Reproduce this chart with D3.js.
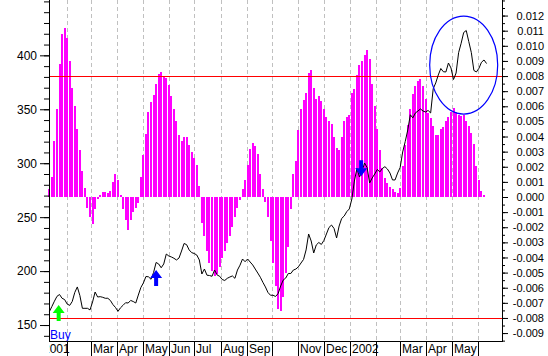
<!DOCTYPE html>
<html><head><meta charset="utf-8">
<script src="https://cdn.jsdelivr.net/npm/d3@7"></script>
<style>body{margin:0;background:#fff}svg{display:block}text{font-family:"Liberation Sans",Arial,sans-serif}</style>
</head><body>
<svg id="c" width="548" height="356"></svg>
<script>
// ---- data ----
const startDate = new Date(2001, 0, 11);   // first observation
const stepDays = 3;                        // spacing of observations
// oscillator (right axis), in thousandths
const indicatorE3 = [
 0.5,1.3,3.7,5.8,8.8,10.8,11.15,10.5,9.0,7.2,6.0,4.5,3.1,1.7,0.6,
 -0.7,-1.3,-1.8,-0.8,-0.15,
 0.12,0.3,0.3,0.25,0.38,1.0,1.5,1.1,0.15,
 -0.8,-1.5,-2.2,-1.5,-1.0,-0.7,-0.4,
 1.3,2.75,4.2,5.6,6.3,6.75,7.5,8.15,8.25,7.95,7.9,7.4,6.7,5.8,5.05,4.1,3.7,4.0,4.0,3.45,3.0,2.6,2.1,0.7,
 -1.75,-2.6,-3.55,-4.35,-4.9,-5.25,-5.1,-4.6,-4.05,-3.55,-3.05,-2.55,-2.0,-1.3,-0.7,-0.2,
 0.5,1.15,2.1,3.15,3.57,3.4,2.85,1.5,0.5,
 -0.35,-1.35,-2.9,-4.35,-5.9,-7.4,-7.55,-6.6,-5.0,-3.3,-0.8,
 1.5,2.4,4.4,5.8,6.42,6.86,8.2,8.4,7.2,6.5,6.65,6.35,5.85,5.3,5.05,4.85,4.0,3.25,3.1,3.95,
 5.0,5.3,5.45,6.86,7.15,8.1,8.75,8.97,9.4,9.7,9.1,7.5,6.0,4.5,3.1,1.95,1.27,0.9,0.68,0.5,
 0.35,0.25,0.6,2.05,3.45,4.75,5.85,6.8,7.35,7.7,7.8,7.35,6.45,5.55,5.2,4.7,4.1,4.1,4.5,4.65,
 5.0,5.3,5.65,5.87,5.6,5.4,5.35,5.4,5.05,4.7,4.25,3.5,2.05,1.15,0.4,0.1,0.03
];
// price (left axis)
const price = [
 162.4,167.2,172.1,176.6,178.3,174.8,173.6,169.5,168.2,171.8,180.2,185.3,177.4,165.5,165.5,165.5,164.0,171.4,180.6,176.0,
 176.3,175.7,174.8,174.8,172.8,169.0,166.3,162.7,166.0,168.3,170.7,170.4,172.8,171.8,170.4,177.8,184.8,189.0,195.0,194.7,
 192.4,198.7,208.0,206.6,203.1,206.6,215.8,214.0,213.1,211.9,210.3,212.1,218.6,225.6,224.5,219.6,217.1,216.3,214.9,210.3,
 197.3,201.9,196.2,195.9,195.2,201.0,196.4,195.2,192.2,191.3,193.3,194.5,195.5,193.3,201.0,205.5,211.2,208.7,211.2,208.4,
 205.7,201.9,198.2,194.3,189.6,185.3,180.2,177.6,177.6,176.5,179.2,186.2,191.7,193.6,197.8,197.8,201.0,201.9,204.1,207.5,
 210.8,219.6,234.4,227.9,216.8,224.2,226.5,224.7,228.4,234.4,240.4,242.7,239.5,230.7,241.8,248.8,251.1,255.1,257.6,266.8,
 283.5,295.1,287.2,292.3,300.2,296.0,281.7,286.3,290.0,294.2,291.9,295.1,296.8,294.6,290.9,284.5,284.5,290.9,296.0,310.4,
 320.1,330.8,344.9,342.0,346.6,348.4,350.3,348.4,347.5,348.9,346.6,369.0,374.4,381.8,387.8,384.8,384.6,392.9,388.3,377.6,
 383.6,402.5,411.2,421.2,423.0,412.8,402.6,386.0,384.6,388.0,393.6,395.7,392.4
];
const leftTicks = [150, 200, 250, 300, 350, 400];
const rightTicks = [-0.009,-0.008,-0.007,-0.006,-0.005,-0.004,-0.003,-0.002,-0.001,0,0.001,0.002,0.003,0.004,0.005,0.006,0.007,0.008,0.009,0.010,0.011,0.012];
// month labels Jan 2001 .. Jun 2002 ("" = label not shown)
const monthLabels = ["2001","","Mar","Apr","May","Jun","Jul","Aug","Sep","","Nov","Dec","2002","","Mar","Apr","May",""];
const bandLevels = [0.008, -0.008];
const arrows = [
  {date: new Date(2001,0,22), value: 168.6, dir: "up", color: "#00ff00"},
  {date: new Date(2001,4,17), value: 201.0, dir: "up", color: "#0000ff"},
  {date: new Date(2002,0,14), value: 288.0, dir: "down", color: "#0000ff"}
];
const highlight = {date: new Date(2002,4,15), value: 391.0};
const buyLabel = "Buy";

// ---- layout ----
const svg = d3.select("#c");
const P = {l: 49, r: 502, t: 0, b: 341};
const xs = d3.scaleTime().domain([new Date(2001,0,10,14), new Date(2002,5,29,5)]).range([P.l, P.r]);
const yL = d3.scaleLinear().domain([135.2, 451.3]).range([P.b, P.t]);
const yR = d3.scaleLinear().domain([-0.009524, 0.01303]).range([P.b, P.t]);
const dates = indicatorE3.map((_, i) => d3.timeDay.offset(startDate, i * stepDays));
const months = d3.timeMonth.range(new Date(2001,0,1), new Date(2002,6,1));

svg.append("rect").attr("width",548).attr("height",356).attr("fill","#fff");
svg.append("defs").append("clipPath").attr("id","lblclip")
  .append("rect").attr("x",P.l).attr("y",0).attr("width",548-P.l).attr("height",356);

// grid
const inside = months.filter(m => xs(m) > P.l && xs(m) < P.r);
svg.append("g").selectAll("line").data(inside).join("line")
  .attr("x1", d => Math.round(xs(d)) + 0.5).attr("x2", d => Math.round(xs(d)) + 0.5)
  .attr("y1", P.t).attr("y2", P.b)
  .attr("stroke", "#c0c0c0").attr("stroke-dasharray", "4,3");

// bars
svg.append("g").attr("shape-rendering","crispEdges").selectAll("rect").data(indicatorE3).join("rect")
  .attr("x", (d,i) => xs(dates[i]) - 1)
  .attr("width", 2)
  .attr("y", d => Math.min(yR(d/1000), yR(0)))
  .attr("height", d => Math.max(0.8, Math.abs(yR(d/1000) - yR(0))))
  .attr("fill", "#ff00ff");

// band lines
svg.append("g").selectAll("line").data(bandLevels).join("line")
  .attr("x1", P.l).attr("x2", P.r)
  .attr("y1", d => Math.round(yR(d)) + 0.5).attr("y2", d => Math.round(yR(d)) + 0.5)
  .attr("stroke", "#ff0000").attr("stroke-width", 1.2);

// price line
svg.append("path").datum(price)
  .attr("d", d3.line().x((d,i) => xs(dates[i])).y(d => yL(d)))
  .attr("fill","none").attr("stroke","#000").attr("stroke-width",1);

// arrows
function arrowPath(a) {
  const x = xs(a.date), y = yL(a.value), s = a.dir === "up" ? 1 : -1;
  const p = d3.path();
  p.moveTo(x, y);
  p.lineTo(x + 6, y + s*8);
  p.lineTo(x + 2, y + s*8);
  p.lineTo(x + 2, y + s*16);
  p.lineTo(x - 2, y + s*16);
  p.lineTo(x - 2, y + s*8);
  p.lineTo(x - 6, y + s*8);
  p.closePath();
  return p.toString();
}
svg.append("g").selectAll("path").data(arrows).join("path")
  .attr("d", arrowPath).attr("fill", d => d.color);

// highlight ellipse
svg.append("ellipse")
  .attr("cx", xs(highlight.date)).attr("cy", yL(highlight.value))
  .attr("rx", 34).attr("ry", 49)
  .attr("fill","none").attr("stroke","#0000ff").attr("stroke-width",1.2);

// Buy label
svg.append("text").attr("x", P.l + 1).attr("y", 339).attr("fill","#0000ff")
  .attr("font-size", 12).text(buyLabel);

// axes
const axL = svg.append("g").attr("transform", `translate(${P.l},0)`);
axL.call(d3.axisLeft(yL).tickValues(d3.range(140, 451, 10)).tickSize(5).tickSizeOuter(0).tickFormat(""));
axL.append("g").call(d3.axisLeft(yL).tickValues(leftTicks).tickSize(9).tickPadding(3).tickSizeOuter(0));
axL.selectAll("path.domain").remove();
axL.selectAll("text").attr("font-size", 12).attr("fill","#000").attr("font-family",'"Liberation Sans",Arial,sans-serif');

const axR = svg.append("g").attr("transform", `translate(${P.r},0)`);
axR.call(d3.axisRight(yR).tickValues(d3.range(-19, 27).map(k => k/2000)).tickSize(3).tickSizeOuter(0).tickFormat(""));
axR.append("g").call(d3.axisRight(yR).tickValues(rightTicks).tickSize(6).tickSizeOuter(0)
   .tickFormat(v => (Math.abs(v) < 1e-9 ? 0 : v).toFixed(3)));
axR.selectAll("path.domain").remove();
axR.selectAll("text").attr("font-size", 11).attr("text-anchor","end").attr("x", 42)
  .attr("fill","#000").attr("font-family",'"Liberation Sans",Arial,sans-serif');

// frame lines
svg.append("line").attr("x1",P.l+0.5).attr("x2",P.l+0.5).attr("y1",0).attr("y2",P.b+0.5).attr("stroke","#000");
svg.append("line").attr("x1",P.r+0.5).attr("x2",P.r+0.5).attr("y1",0).attr("y2",P.b+0.5).attr("stroke","#000");
svg.append("line").attr("x1",P.l).attr("x2",P.r+1).attr("y1",P.b+0.5).attr("y2",P.b+0.5).attr("stroke","#000");

// month ticks & labels
svg.append("g").selectAll("line").data(inside).join("line")
  .attr("x1", d => Math.round(xs(d)) + 0.5).attr("x2", d => Math.round(xs(d)) + 0.5)
  .attr("y1", P.b).attr("y2", 356).attr("stroke","#000");
svg.append("g").attr("clip-path","url(#lblclip)").selectAll("text").data(months).join("text")
  .attr("x", d => Math.round(xs(d)) + 2).attr("y", 353)
  .attr("font-size", 12).attr("fill","#000")
  .text((d,i) => monthLabels[i]);
</script>
</body></html>
